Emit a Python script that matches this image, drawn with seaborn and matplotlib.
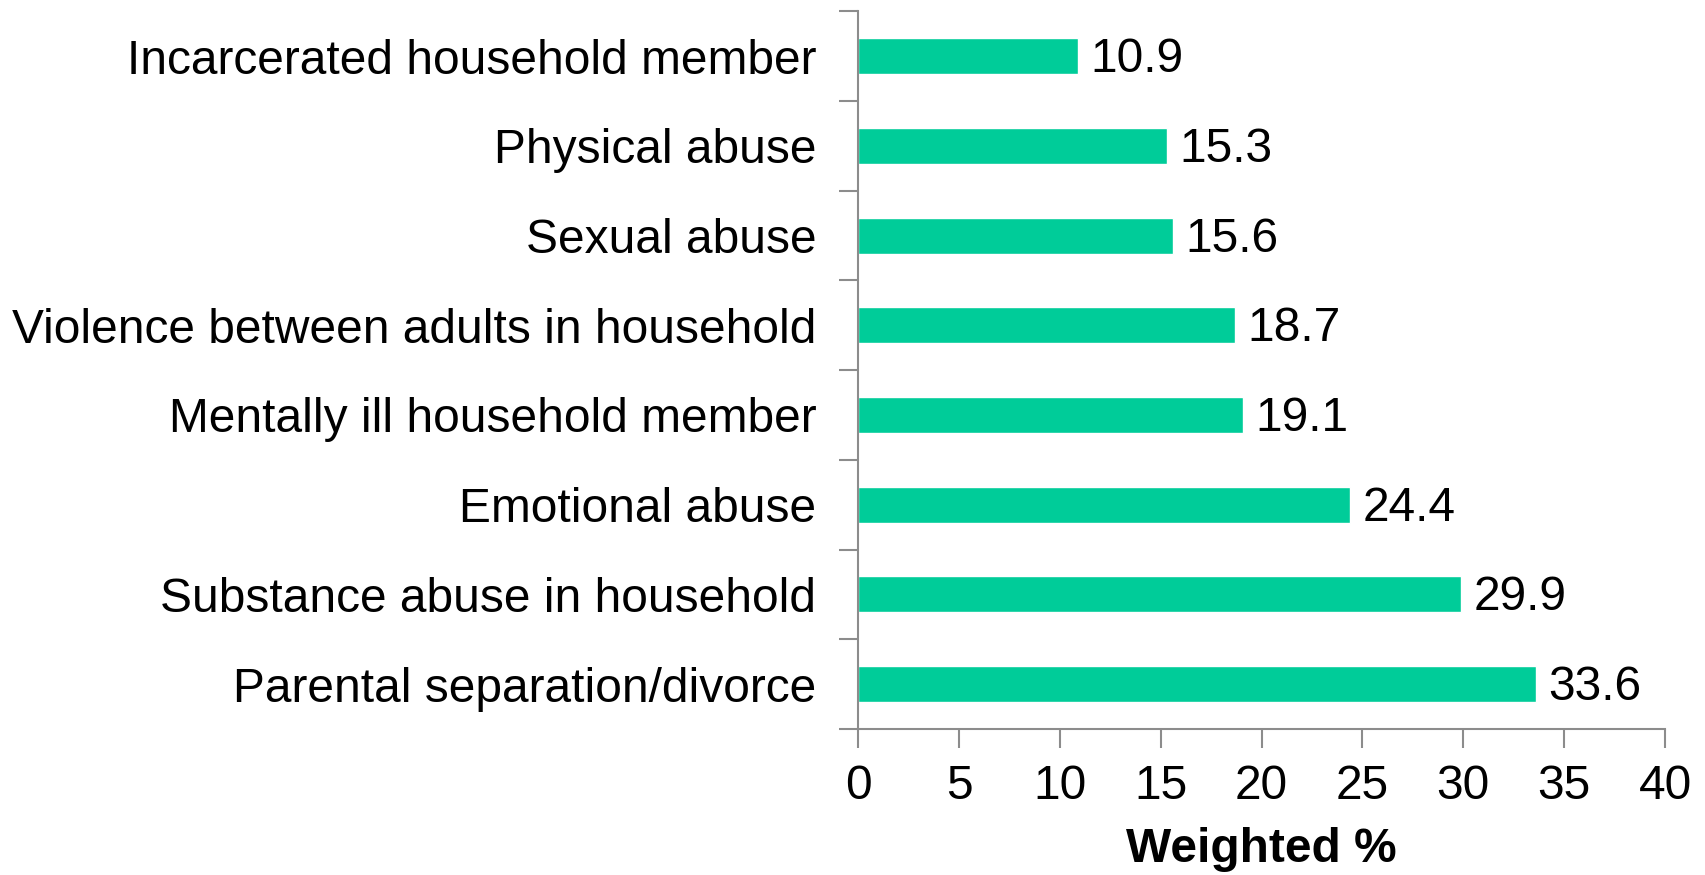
import matplotlib
matplotlib.use("Agg")
import matplotlib.pyplot as plt
import seaborn as sns
import pandas as pd

categories = [
    "Incarcerated household member",
    "Physical abuse",
    "Sexual abuse",
    "Violence between adults in household",
    "Mentally ill household member",
    "Emotional abuse",
    "Substance abuse in household",
    "Parental separation/divorce",
]
values = [10.9, 15.3, 15.6, 18.7, 19.1, 24.4, 29.9, 33.6]
x_ticks = [0, 5, 10, 15, 20, 25, 30, 35, 40]

sns.set_theme(style="white")
plt.rcParams["font.family"] = ["Liberation Sans", "DejaVu Sans"]
plt.rcParams["text.color"] = "black"
plt.rcParams["xtick.labelcolor"] = "black"
plt.rcParams["ytick.labelcolor"] = "black"
plt.rcParams["axes.labelcolor"] = "black"

df = pd.DataFrame({"category": categories, "value": values})

fig = plt.figure(figsize=(17.06, 8.75), dpi=100)
ax = fig.add_axes([0.503, 0.167, 0.473, 0.820])

sns.barplot(data=df, x="value", y="category", color="#00CC99",
            saturation=1, width=0.4, ax=ax, orient="h")

ax.set_xlim(0, 40)
ax.set_ylim(len(categories) - 0.5, -0.5)
ax.set_xticks(x_ticks)
ax.set_xticklabels([str(t) for t in x_ticks])

fs = 34.5
ax.set_ylabel("")
ax.set_xlabel("Weighted %", fontsize=fs, fontweight="bold", labelpad=13)

# value labels to the right of each bar
for i, v in enumerate(values):
    ax.text(v + 0.6, i + 0.04, f"{v}", va="center", ha="left", fontsize=fs)

for s in ["top", "right"]:
    ax.spines[s].set_visible(False)
for s in ["left", "bottom"]:
    ax.spines[s].set_color("#8c8c8c")
    ax.spines[s].set_linewidth(1.5)

# category boundary ticks on the y axis
ax.set_yticks([i - 0.5 for i in range(len(categories) + 1)], minor=True)
ax.tick_params(axis="y", which="minor", length=14, width=1.5, color="#8c8c8c", left=True)
ax.tick_params(axis="y", which="major", length=0, pad=30, labelsize=fs, left=False)
ax.tick_params(axis="x", which="major", length=14, width=1.5, color="#8c8c8c",
               bottom=True, pad=11, labelsize=fs)

fig.savefig("out.png", dpi=100)
